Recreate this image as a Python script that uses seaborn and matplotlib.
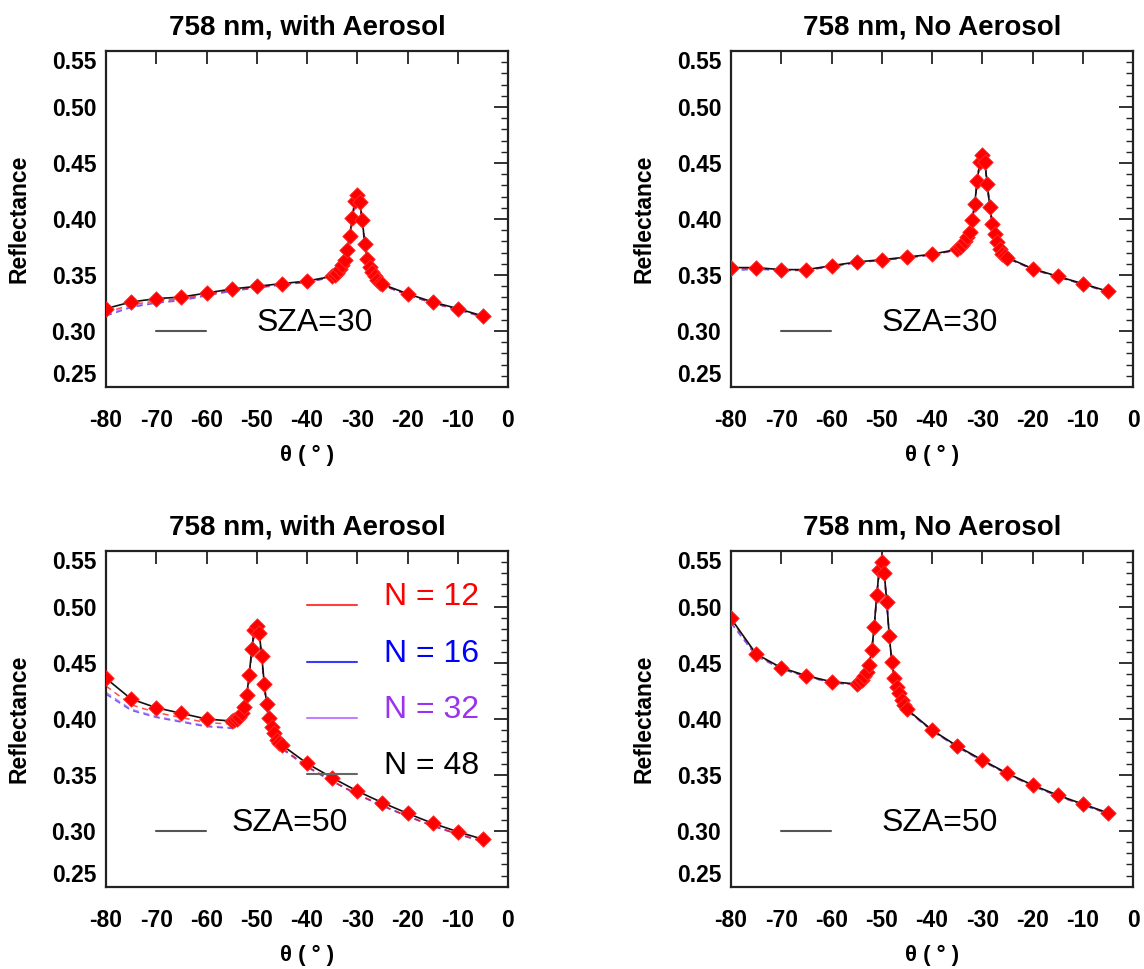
import numpy as np
import pandas as pd
import matplotlib
matplotlib.use("Agg")
import matplotlib.pyplot as plt
from matplotlib.lines import Line2D
from matplotlib.legend_handler import HandlerLine2D
from matplotlib.ticker import MultipleLocator, FixedLocator
import seaborn as sns

# ---------------- data ----------------
angles_30 = [-80, -75, -70, -65, -60, -55, -50, -45, -40, -35,
             -34.5, -34, -33.5, -33, -32.5, -32, -31.5, -31, -30.5, -30,
             -29.5, -29, -28.5, -28, -27.5, -27, -26.5, -26, -25.5, -25,
             -20, -15, -10, -5]
angles_50 = [-80, -75, -70, -65, -60, -55,
             -54.5, -54, -53.5, -53, -52.5, -52, -51.5, -51, -50.5, -50,
             -49.5, -49, -48.5, -48, -47.5, -47, -46.5, -46, -45.5, -45,
             -40, -35, -30, -25, -20, -15, -10, -5]

# with aerosol, SZA=30
aer30_n48 = [0.3200, 0.3259, 0.3289, 0.3303, 0.3339, 0.3375, 0.3399, 0.3423, 0.3446, 0.3488,
             0.3497, 0.3520, 0.3550, 0.3590, 0.3631, 0.3720, 0.3850, 0.4010, 0.4160, 0.4210,
             0.4150, 0.3990, 0.3780, 0.3640, 0.3575, 0.3530, 0.3490, 0.3455, 0.3430, 0.3417,
             0.3333, 0.3259, 0.3200, 0.3134]
aer30_n12 = [0.3165, 0.3235, 0.3268, 0.3288, 0.3327, 0.3366, 0.3392, 0.3416, 0.3440, 0.3482,
             0.3491, 0.3514, 0.3544, 0.3584, 0.3625, 0.3713, 0.3842, 0.4000, 0.4148, 0.4198,
             0.4138, 0.3980, 0.3770, 0.3632, 0.3568, 0.3523, 0.3483, 0.3448, 0.3423, 0.3410,
             0.3325, 0.3251, 0.3193, 0.3128]
aer30_n16 = [0.3135, 0.3212, 0.3250, 0.3272, 0.3315, 0.3356, 0.3385, 0.3411, 0.3436, 0.3479,
             0.3488, 0.3511, 0.3541, 0.3581, 0.3622, 0.3710, 0.3838, 0.3995, 0.4143, 0.4192,
             0.4133, 0.3976, 0.3767, 0.3629, 0.3565, 0.3520, 0.3480, 0.3445, 0.3420, 0.3407,
             0.3322, 0.3248, 0.3190, 0.3125]
aer30_n32 = [0.3148, 0.3220, 0.3257, 0.3278, 0.3320, 0.3360, 0.3388, 0.3413, 0.3438, 0.3481,
             0.3490, 0.3513, 0.3543, 0.3583, 0.3624, 0.3712, 0.3840, 0.3998, 0.4146, 0.4195,
             0.4136, 0.3978, 0.3769, 0.3631, 0.3567, 0.3522, 0.3482, 0.3447, 0.3422, 0.3409,
             0.3324, 0.3250, 0.3192, 0.3127]

# no aerosol, SZA=30
clr30_n48 = [0.3566, 0.3566, 0.3548, 0.3548, 0.3583, 0.3616, 0.3637, 0.3660, 0.3685, 0.3729,
             0.3750, 0.3770, 0.3800, 0.3835, 0.3880, 0.3988, 0.4137, 0.4339, 0.4509, 0.4569,
             0.4509, 0.4316, 0.4107, 0.3959, 0.3863, 0.3795, 0.3735, 0.3691, 0.3670, 0.3655,
             0.3557, 0.3488, 0.3423, 0.3354]
clr30_n12 = [0.3560, 0.3562, 0.3544, 0.3544, 0.3579, 0.3612, 0.3633, 0.3656, 0.3681, 0.3725,
             0.3746, 0.3766, 0.3796, 0.3831, 0.3876, 0.3984, 0.4133, 0.4335, 0.4505, 0.4565,
             0.4505, 0.4312, 0.4103, 0.3955, 0.3859, 0.3791, 0.3731, 0.3687, 0.3666, 0.3651,
             0.3553, 0.3484, 0.3419, 0.3350]
clr30_n16 = [0.3538, 0.3553, 0.3540, 0.3541, 0.3577, 0.3610, 0.3631, 0.3654, 0.3679, 0.3723,
             0.3744, 0.3764, 0.3794, 0.3829, 0.3874, 0.3982, 0.4131, 0.4333, 0.4503, 0.4563,
             0.4503, 0.4310, 0.4101, 0.3953, 0.3857, 0.3789, 0.3729, 0.3685, 0.3664, 0.3649,
             0.3551, 0.3482, 0.3417, 0.3348]
clr30_n32 = [0.3545, 0.3557, 0.3542, 0.3543, 0.3578, 0.3611, 0.3632, 0.3655, 0.3680, 0.3724,
             0.3745, 0.3765, 0.3795, 0.3830, 0.3875, 0.3983, 0.4132, 0.4334, 0.4504, 0.4564,
             0.4504, 0.4311, 0.4102, 0.3954, 0.3858, 0.3790, 0.3730, 0.3686, 0.3665, 0.3650,
             0.3552, 0.3483, 0.3418, 0.3349]

# with aerosol, SZA=50
aer50_n48 = [0.4360, 0.4176, 0.4098, 0.4048, 0.3997, 0.3979,
             0.3985, 0.3997, 0.4018, 0.4053, 0.4107, 0.4211, 0.4390, 0.4620, 0.4792, 0.4828,
             0.4762, 0.4560, 0.4310, 0.4128, 0.4003, 0.3928, 0.3869, 0.3810, 0.3785, 0.3765,
             0.3601, 0.3473, 0.3354, 0.3250, 0.3155, 0.3066, 0.2991, 0.2923]
aer50_n12 = [0.4292, 0.4125, 0.4055, 0.4010, 0.3965, 0.3952,
             0.3960, 0.3975, 0.3998, 0.4035, 0.4090, 0.4195, 0.4375, 0.4605, 0.4778, 0.4815,
             0.4748, 0.4545, 0.4295, 0.4112, 0.3985, 0.3908, 0.3848, 0.3788, 0.3762, 0.3741,
             0.3575, 0.3445, 0.3328, 0.3225, 0.3132, 0.3045, 0.2972, 0.2906]
aer50_n16 = [0.4220, 0.4075, 0.4012, 0.3970, 0.3930, 0.3914,
             0.3922, 0.3940, 0.3965, 0.4003, 0.4062, 0.4170, 0.4355, 0.4590, 0.4765, 0.4803,
             0.4737, 0.4533, 0.4283, 0.4100, 0.3974, 0.3897, 0.3837, 0.3778, 0.3752, 0.3731,
             0.3568, 0.3440, 0.3322, 0.3220, 0.3128, 0.3041, 0.2968, 0.2902]
aer50_n32 = [0.4235, 0.4085, 0.4020, 0.3978, 0.3937, 0.3920,
             0.3927, 0.3944, 0.3969, 0.4007, 0.4066, 0.4174, 0.4359, 0.4593, 0.4768, 0.4806,
             0.4740, 0.4536, 0.4286, 0.4103, 0.3977, 0.3900, 0.3840, 0.3781, 0.3755, 0.3734,
             0.3571, 0.3442, 0.3325, 0.3222, 0.3130, 0.3043, 0.2970, 0.2904]

# no aerosol, SZA=50
clr50_n48 = [0.4895, 0.4578, 0.4455, 0.4384, 0.4330, 0.4310,
             0.4325, 0.4345, 0.4381, 0.4420, 0.4479, 0.4613, 0.4821, 0.5104, 0.5328, 0.5400,
             0.5298, 0.5045, 0.4738, 0.4509, 0.4360, 0.4286, 0.4227, 0.4167, 0.4122, 0.4084,
             0.3899, 0.3756, 0.3631, 0.3512, 0.3408, 0.3318, 0.3238, 0.3160]
clr50_n12 = [0.4885, 0.4572, 0.4450, 0.4379, 0.4325, 0.4305,
             0.4320, 0.4340, 0.4376, 0.4415, 0.4474, 0.4608, 0.4816, 0.5099, 0.5323, 0.5395,
             0.5293, 0.5040, 0.4733, 0.4504, 0.4355, 0.4281, 0.4222, 0.4162, 0.4117, 0.4079,
             0.3894, 0.3751, 0.3626, 0.3507, 0.3403, 0.3313, 0.3233, 0.3155]
clr50_n16 = [0.4855, 0.4560, 0.4444, 0.4375, 0.4322, 0.4302,
             0.4317, 0.4337, 0.4373, 0.4412, 0.4471, 0.4605, 0.4813, 0.5096, 0.5320, 0.5392,
             0.5290, 0.5037, 0.4730, 0.4501, 0.4352, 0.4278, 0.4219, 0.4159, 0.4114, 0.4076,
             0.3891, 0.3748, 0.3623, 0.3504, 0.3400, 0.3310, 0.3230, 0.3152]
clr50_n32 = [0.4862, 0.4564, 0.4447, 0.4377, 0.4323, 0.4303,
             0.4318, 0.4338, 0.4374, 0.4413, 0.4472, 0.4606, 0.4814, 0.5097, 0.5321, 0.5393,
             0.5291, 0.5038, 0.4731, 0.4502, 0.4353, 0.4279, 0.4220, 0.4160, 0.4115, 0.4077,
             0.3892, 0.3749, 0.3624, 0.3505, 0.3401, 0.3311, 0.3231, 0.3153]

titles = ["758 nm, with Aerosol", "758 nm, No Aerosol",
          "758 nm, with Aerosol", "758 nm, No Aerosol"]
sza_labels = ["SZA=30", "SZA=30", "SZA=50", "SZA=50"]
stream_labels = ["N = 12", "N = 16", "N = 32", "N = 48"]
x_ticks = [-80, -70, -60, -50, -40, -30, -20, -10, 0]
y_ticks = [0.25, 0.30, 0.35, 0.40, 0.45, 0.50, 0.55]

panels = [
    (angles_30, aer30_n12, aer30_n16, aer30_n32, aer30_n48),
    (angles_30, clr30_n12, clr30_n16, clr30_n32, clr30_n48),
    (angles_50, aer50_n12, aer50_n16, aer50_n32, aer50_n48),
    (angles_50, clr50_n12, clr50_n16, clr50_n32, clr50_n48),
]

# ---------------- style ----------------
sns.set_theme(style="white")
plt.rcParams["font.family"] = ["Liberation Sans", "DejaVu Sans"]
for key in ["text.color", "axes.labelcolor", "xtick.color", "ytick.color"]:
    plt.rcParams[key] = "black"


class LowLineHandler(HandlerLine2D):
    """Legend line drawn a little below the text centre (as in the original)."""
    def __init__(self, dy=8.0, **kw):
        super().__init__(**kw)
        self.dy = dy

    def create_artists(self, legend, orig_handle, xdescent, ydescent,
                       width, height, fontsize, trans):
        arts = super().create_artists(legend, orig_handle, xdescent, ydescent,
                                      width, height, fontsize, trans)
        for a in arts:
            a.set_ydata(np.asarray(a.get_ydata(), dtype=float) - self.dy)
        return arts


RED = "#ff0000"
BLUE = "#2a2aff"
PURPLE = "#a050f0"
BLACK = "#111111"

fig = plt.figure(figsize=(11.44, 9.69), dpi=100)
W, H = 1144.0, 969.0
boxes = [
    (106, 387), (731, 387),
    (106, 886.7), (731, 886.7),
]
axw, axh = 402, 336

for i, (box, data) in enumerate(zip(boxes, panels)):
    left, bottom_px = box
    ax = fig.add_axes([left / W, (H - bottom_px) / H, axw / W, axh / H])
    ang, n12, n16, n32, n48 = data
    df = pd.DataFrame({"theta": ang, "n12": n12, "n16": n16, "n32": n32, "n48": n48})

    sns.lineplot(data=df, x="theta", y="n16", ax=ax, color=BLUE, lw=1.1,
                 linestyle=(0, (4, 3)), zorder=2, alpha=0.75)
    sns.lineplot(data=df, x="theta", y="n32", ax=ax, color=PURPLE, lw=1.1,
                 linestyle=(0, (4, 3)), zorder=2, alpha=0.65)
    sns.lineplot(data=df, x="theta", y="n12", ax=ax, color=RED, lw=1.1,
                 linestyle=(0, (4, 3)), zorder=2, alpha=0.7)
    sns.lineplot(data=df, x="theta", y="n48", ax=ax, color=BLACK, lw=1.2, zorder=3)
    sns.scatterplot(data=df, x="theta", y="n48", ax=ax, marker="D", s=62,
                    color=RED, edgecolor="#ff3030", linewidth=0.6, zorder=4)

    ax.set_xlim(-80, 0)
    ax.set_ylim(0.25, 0.55)
    ax.xaxis.set_major_locator(FixedLocator(x_ticks))
    ax.yaxis.set_major_locator(FixedLocator(y_ticks))
    ax.yaxis.set_minor_locator(MultipleLocator(0.01))
    ax.set_xticklabels([f"{t:d}" for t in x_ticks])
    ax.set_yticklabels([f"{t:.2f}" for t in y_ticks])
    ax.tick_params(axis="both", which="both", direction="in", top=True, right=True,
                   color="#222222")
    ax.tick_params(axis="x", which="major", length=9, width=1.3, pad=16,
                   labelsize=16.5)
    ax.tick_params(axis="y", which="major", length=10, width=1.3, pad=7,
                   labelsize=16.5)
    ax.tick_params(axis="y", which="minor", length=5, width=1.0)
    for lab in ax.get_xticklabels() + ax.get_yticklabels():
        lab.set_fontweight("bold")
    ylabs = ax.get_yticklabels()
    ylabs[0].set_va("bottom")
    ylabs[-1].set_va("top")
    for sp in ax.spines.values():
        sp.set_linewidth(1.6)
        sp.set_color("#222222")

    ax.set_xlabel("θ ( ° )", fontsize=16, fontweight="bold", labelpad=9)
    ax.set_ylabel("Reflectance", fontsize=16.5, fontweight="bold", labelpad=15)
    ax.set_title(titles[i], fontsize=20, fontweight="bold", pad=12)

    # SZA key
    sza_handle = Line2D([], [], color="#555555", lw=1.5)
    pad_txt = 0.8 if i == 2 else 1.58
    leg = ax.legend([sza_handle], [sza_labels[i]], loc="center left",
                    bbox_to_anchor=(0.124, 0.19), frameon=False, fontsize=23,
                    handlelength=1.58, handletextpad=pad_txt, borderpad=0,
                    borderaxespad=0, handler_map={Line2D: LowLineHandler(dy=8.0)})

    if i == 2:
        ax.add_artist(leg)
        handles = [Line2D([], [], color="#ff4040", lw=1.5),
                   Line2D([], [], color="#3a3aff", lw=1.5),
                   Line2D([], [], color="#c080ff", lw=1.5),
                   Line2D([], [], color="#666666", lw=1.5)]
        ax.legend(handles, stream_labels, loc="center left",
                  bbox_to_anchor=(0.5, 0.61), frameon=False, fontsize=23,
                  handlelength=1.58, handletextpad=0.82, labelspacing=0.82,
                  borderpad=0, borderaxespad=0,
                  handler_map={Line2D: LowLineHandler(dy=8.0)},
                  labelcolor=["#ff0000", "#0000ff", "#9933ee", "#000000"])

fig.savefig("out.png", dpi=100)
